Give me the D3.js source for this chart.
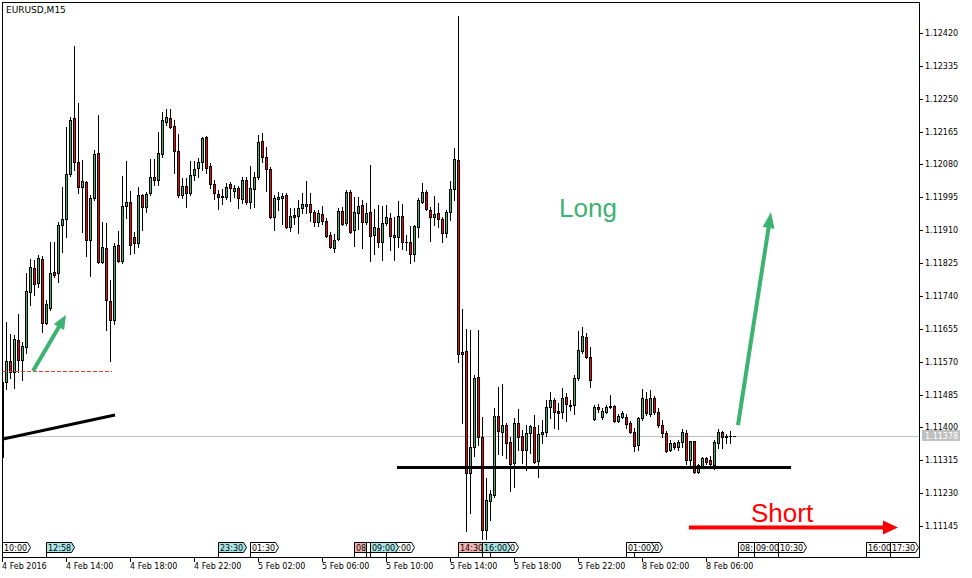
<!DOCTYPE html>
<html>
<head>
<meta charset="utf-8">
<script src="https://cdn.jsdelivr.net/npm/d3@7"></script>
<style>
  body { margin: 0; background: #fff; }
  svg { display: block; }
  .axis text, .tag text, .title { font-family: "DejaVu Sans", sans-serif; font-size: 8px; }
  .title { font-size: 9px; }
  .label { font-family: "Liberation Sans", Arial, sans-serif; font-size: 26px; }
</style>
</head>
<body>
<script>

// DATA
// --------------------------------------------------------------------------

var symbol = 'EURUSD,M15';

// One entry per M15 bar, oldest first.
var opens = [
  1.11324, 1.11517, 1.11572, 1.11543, 1.11626, 1.11574, 1.11608, 1.11750,
  1.11812, 1.11774, 1.11836, 1.11670, 1.11709, 1.11802, 1.11799, 1.11923,
  1.11939, 1.12055, 1.12200, 1.12086, 1.12022, 1.12035, 1.11885, 1.11993,
  1.12110, 1.11828, 1.11864, 1.11727, 1.11678, 1.11872, 1.11830, 1.11973,
  1.11983, 1.11892, 1.11877, 1.12001, 1.11970, 1.12006, 1.12048, 1.12040,
  1.12107, 1.12190, 1.12200, 1.12180, 1.12115, 1.12001, 1.12024, 1.12006,
  1.12053, 1.12071, 1.12086, 1.12151, 1.12076, 1.12030, 1.12004, 1.11998,
  1.11996, 1.12030, 1.12011, 1.12019, 1.11991, 1.12040, 1.11983, 1.12017,
  1.12048, 1.12141, 1.12099, 1.12068, 1.11944, 1.11991, 1.11993, 1.12001,
  1.11918, 1.11949, 1.11947, 1.11967, 1.11973, 1.11978, 1.11957, 1.11931,
  1.11952, 1.11934, 1.11898, 1.11864, 1.11887, 1.11960, 1.11929, 1.12009,
  1.11911, 1.11955, 1.11975, 1.11931, 1.11957, 1.11898, 1.11916, 1.11880,
  1.11929, 1.11942, 1.11892, 1.11892, 1.11947, 1.11880, 1.11880, 1.11849,
  1.11918, 1.11983, 1.12009, 1.11962, 1.11944, 1.11955, 1.11939, 1.11903,
  1.11957, 1.12017, 1.12092, 1.11590, 1.11598, 1.11282, 1.11349, 1.11530,
  1.11375, 1.11135, 1.11210, 1.11225, 1.11430, 1.11388, 1.11406, 1.11362,
  1.11308, 1.11411, 1.11378, 1.11342, 1.11386, 1.11401, 1.11313, 1.11383,
  1.11388, 1.11453, 1.11471, 1.11442, 1.11440, 1.11479, 1.11455, 1.11458,
  1.11528, 1.11598, 1.11634, 1.11582, 1.11422, 1.11453, 1.11427, 1.11440,
  1.11453, 1.11455, 1.11417, 1.11427, 1.11427, 1.11411, 1.11388, 1.11355,
  1.11424, 1.11474, 1.11435, 1.11476, 1.11440, 1.11406, 1.11386, 1.11342,
  1.11360, 1.11349, 1.11362, 1.11386, 1.11316, 1.11365, 1.11285, 1.11300,
  1.11321, 1.11316, 1.11303, 1.11360, 1.11388, 1.11375, 1.11378, 1.11378
];

var highs = [
  1.11528, 1.11673, 1.11642, 1.11639, 1.11693, 1.11621, 1.11799, 1.11836,
  1.11833, 1.11846, 1.11843, 1.11730, 1.11880, 1.11880, 1.11931, 1.12022,
  1.12177, 1.12203, 1.12386, 1.12239, 1.12092, 1.12037, 1.12001, 1.12117,
  1.12208, 1.11931, 1.11929, 1.11781, 1.11877, 1.11908, 1.12050, 1.12089,
  1.12011, 1.11905, 1.12022, 1.12004, 1.12009, 1.12094, 1.12094, 1.12164,
  1.12216, 1.12223, 1.12223, 1.12195, 1.12159, 1.12045, 1.12045, 1.12089,
  1.12089, 1.12097, 1.12151, 1.12154, 1.12084, 1.12040, 1.12014, 1.12017,
  1.12032, 1.12035, 1.12027, 1.12024, 1.12048, 1.12048, 1.12076, 1.12061,
  1.12156, 1.12161, 1.12125, 1.12073, 1.12001, 1.12009, 1.12006, 1.12006,
  1.11967, 1.11967, 1.11988, 1.12006, 1.12037, 1.12006, 1.11962, 1.11962,
  1.11973, 1.11942, 1.11905, 1.11900, 1.11967, 1.11970, 1.12014, 1.12014,
  1.11996, 1.11996, 1.11988, 1.11980, 1.12079, 1.11965, 1.11975, 1.11973,
  1.11975, 1.11955, 1.11944, 1.11986, 1.11978, 1.11898, 1.11921, 1.11923,
  1.11993, 1.12032, 1.12014, 1.11970, 1.11998, 1.11980, 1.11944, 1.11962,
  1.12037, 1.12123, 1.12464, 1.11706, 1.11655, 1.11652, 1.11536, 1.11652,
  1.11427, 1.11269, 1.11238, 1.11450, 1.11505, 1.11512, 1.11411, 1.11375,
  1.11424, 1.11448, 1.11393, 1.11406, 1.11406, 1.11432, 1.11406, 1.11419,
  1.11471, 1.11492, 1.11476, 1.11463, 1.11502, 1.11489, 1.11471, 1.11536,
  1.11649, 1.11660, 1.11644, 1.11608, 1.11458, 1.11461, 1.11450, 1.11458,
  1.11484, 1.11458, 1.11435, 1.11442, 1.11435, 1.11417, 1.11398, 1.11427,
  1.11499, 1.11492, 1.11497, 1.11481, 1.11450, 1.11419, 1.11391, 1.11368,
  1.11362, 1.11368, 1.11396, 1.11393, 1.11365, 1.11365, 1.11305, 1.11324,
  1.11324, 1.11326, 1.11368, 1.11396, 1.11391, 1.11383, 1.11391, 1.11378
];

var lows = [
  1.11316, 1.11499, 1.11528, 1.11502, 1.11543, 1.11523, 1.11592, 1.11717,
  1.11742, 1.11763, 1.11647, 1.11667, 1.11704, 1.11789, 1.11776, 1.11854,
  1.11892, 1.12050, 1.12066, 1.12006, 1.11905, 1.11843, 1.11792, 1.11988,
  1.11825, 1.11825, 1.11652, 1.11572, 1.11667, 1.11828, 1.11825, 1.11942,
  1.11849, 1.11851, 1.11867, 1.11911, 1.11957, 1.12001, 1.12027, 1.12027,
  1.12099, 1.12182, 1.12174, 1.12058, 1.11996, 1.11993, 1.11970, 1.12001,
  1.12040, 1.12048, 1.12066, 1.12058, 1.12019, 1.11991, 1.11965, 1.11978,
  1.11991, 1.11986, 1.11996, 1.11967, 1.11980, 1.11978, 1.11967, 1.11970,
  1.12042, 1.12086, 1.12011, 1.11942, 1.11911, 1.11962, 1.11926, 1.11916,
  1.11908, 1.11926, 1.11903, 1.11955, 1.11955, 1.11934, 1.11921, 1.11921,
  1.11926, 1.11892, 1.11864, 1.11854, 1.11885, 1.11923, 1.11923, 1.11903,
  1.11869, 1.11913, 1.11864, 1.11926, 1.11830, 1.11849, 1.11867, 1.11833,
  1.11923, 1.11859, 1.11833, 1.11867, 1.11861, 1.11859, 1.11825, 1.11830,
  1.11892, 1.11980, 1.11962, 1.11882, 1.11923, 1.11918, 1.11880, 1.11892,
  1.11936, 1.11988, 1.11569, 1.11411, 1.11132, 1.11179, 1.11326, 1.11355,
  1.11111, 1.11111, 1.11161, 1.11220, 1.11331, 1.11329, 1.11321, 1.11236,
  1.11246, 1.11342, 1.11308, 1.11290, 1.11334, 1.11308, 1.11272, 1.11360,
  1.11378, 1.11424, 1.11398, 1.11396, 1.11424, 1.11417, 1.11445, 1.11435,
  1.11523, 1.11592, 1.11580, 1.11505, 1.11419, 1.11440, 1.11422, 1.11437,
  1.11450, 1.11414, 1.11414, 1.11424, 1.11398, 1.11386, 1.11339, 1.11342,
  1.11419, 1.11432, 1.11430, 1.11435, 1.11401, 1.11375, 1.11336, 1.11339,
  1.11344, 1.11342, 1.11349, 1.11305, 1.11300, 1.11282, 1.11282, 1.11298,
  1.11305, 1.11300, 1.11293, 1.11347, 1.11347, 1.11360, 1.11360, 1.11378
];

var closes = [
  1.11517, 1.11572, 1.11543, 1.11629, 1.11574, 1.11611, 1.11753, 1.11815,
  1.11771, 1.11838, 1.11670, 1.11719, 1.11799, 1.11794, 1.11923, 1.11939,
  1.12055, 1.12195, 1.12086, 1.12022, 1.12037, 1.11885, 1.11993, 1.12107,
  1.11828, 1.11867, 1.11730, 1.11678, 1.11869, 1.11830, 1.11973, 1.11983,
  1.11872, 1.11877, 1.12001, 1.11970, 1.12004, 1.12048, 1.12040, 1.12110,
  1.12195, 1.12203, 1.12177, 1.12115, 1.12001, 1.12024, 1.12006, 1.12053,
  1.12068, 1.12086, 1.12148, 1.12071, 1.12030, 1.12006, 1.11996, 1.11996,
  1.12022, 1.12019, 1.12019, 1.11993, 1.12040, 1.11983, 1.12019, 1.12048,
  1.12138, 1.12099, 1.12068, 1.11944, 1.11993, 1.11996, 1.11998, 1.11918,
  1.11947, 1.11944, 1.11967, 1.11978, 1.11978, 1.11957, 1.11931, 1.11955,
  1.11934, 1.11895, 1.11867, 1.11885, 1.11960, 1.11926, 1.12009, 1.11905,
  1.11957, 1.11973, 1.11931, 1.11955, 1.11895, 1.11918, 1.11880, 1.11929,
  1.11944, 1.11895, 1.11898, 1.11947, 1.11880, 1.11880, 1.11849, 1.11921,
  1.11988, 1.12009, 1.11965, 1.11944, 1.11952, 1.11939, 1.11903, 1.11957,
  1.12017, 1.12094, 1.11590, 1.11595, 1.11282, 1.11349, 1.11528, 1.11375,
  1.11135, 1.11212, 1.11228, 1.11430, 1.11391, 1.11406, 1.11360, 1.11305,
  1.11411, 1.11375, 1.11342, 1.11386, 1.11404, 1.11311, 1.11383, 1.11388,
  1.11453, 1.11471, 1.11440, 1.11437, 1.11476, 1.11461, 1.11458, 1.11528,
  1.11600, 1.11636, 1.11582, 1.11523, 1.11453, 1.11448, 1.11442, 1.11453,
  1.11455, 1.11417, 1.11430, 1.11437, 1.11409, 1.11388, 1.11352, 1.11424,
  1.11476, 1.11437, 1.11476, 1.11440, 1.11406, 1.11386, 1.11339, 1.11360,
  1.11349, 1.11362, 1.11388, 1.11316, 1.11365, 1.11285, 1.11303, 1.11321,
  1.11311, 1.11305, 1.11362, 1.11388, 1.11375, 1.11378, 1.11378, 1.11378
];

var lastPrice = 1.11378;

// Time axis: bar index of each label and its text.
var timeTickBars = [0, 16, 32, 48, 64, 80, 96, 112, 128, 144, 160, 176];
var timeTickLabels = [
  '4 Feb 2016', '4 Feb 14:00', '4 Feb 18:00', '4 Feb 22:00',
  '5 Feb 02:00', '5 Feb 06:00', '5 Feb 10:00', '5 Feb 14:00',
  '5 Feb 18:00', '5 Feb 22:00', '8 Feb 02:00', '8 Feb 06:00'
];

// Price axis labels.
var priceTicks = [
  1.12420, 1.12335, 1.12250, 1.12165, 1.12080, 1.11995, 1.11910, 1.11825,
  1.11740, 1.11655, 1.11570, 1.11485, 1.11400, 1.11315, 1.11230, 1.11145
];

// News event markers along the time axis, in the order they are stacked.
var eventBars  = [0, 11, 54, 62, 88, 91, 96, 92, 114, 122, 120, 158, 156,
                  184, 188, 194, 216, 222];
var eventTimes = ['10:00', '12:58', '23:30', '01:30', '08:30', '08:45',
                  '10:00', '09:00', '14:30', '16:30', '16:00', '01:30',
                  '01:00', '08:00', '09:00', '10:30', '16:00', '17:30'];
var eventKinds = ['low', 'mid', 'mid', 'low', 'high', 'low', 'low', 'mid',
                  'high', 'low', 'mid', 'low', 'low', 'low', 'low', 'low',
                  'low', 'low'];

// Drawn objects, anchored in (bar, price).
var trendBars    = [0.25, 28.25];
var trendPrices  = [1.11370, 1.11432];
var levelBars    = [0.25, 27.5];
var levelPrice   = 1.11546;
var supportBars  = [98.75, 197.25];
var supportPrice = 1.11298;
var upSmallBars   = [7.75, 16];
var upSmallPrices = [1.11546, 1.11691];
var upBigBars     = [184, 192.25];
var upBigPrices   = [1.11406, 1.11957];
var downBars      = [171.75, 224];
var downPrice     = 1.11142;
var longAt  = [139.25, 1.11944];
var shortAt = [187.25, 1.11155];


// LAYOUT
// --------------------------------------------------------------------------

var W = 972, H = 578;
var frame = { left: 2, top: 2, right: 919, bottom: 557 };

var GREEN = '#3cb371';
var RED = '#ff0000';
var KIND_FILL = { low: '#ffffff', mid: '#a8e6e6', high: '#f4b4b4' };
var TAG_W = 25, TAG_TIP = 3;

var x = d3.scaleLinear().domain([0, 229]).range([2, 918]);
var y = d3.scaleLinear().domain([1.11145, 1.12420]).range([526, 33]);

var px = function(b) { return Math.round(x(b)); };
var py = function(p) { return Math.round(y(p)); };

var svg = d3.select('body').append('svg')
  .attr('width', W)
  .attr('height', H);

svg.append('rect')
  .attr('width', W).attr('height', H).attr('fill', '#fff');

svg.append('clipPath').attr('id', 'plot-clip')
  .append('rect')
  .attr('x', frame.left + 1).attr('y', frame.top + 1)
  .attr('width', frame.right - frame.left - 1)
  .attr('height', frame.bottom - frame.top - 1);

var plot = svg.append('g')
  .attr('clip-path', 'url(#plot-clip)')
  .attr('shape-rendering', 'crispEdges');


/**
 * Polygon for a straight arrow with a triangular head.
 */
function arrowPath(x1, y1, x2, y2, shaft, headLen, headHalf) {
  var dx = x2 - x1, dy = y2 - y1;
  var len = Math.sqrt(dx * dx + dy * dy);
  var ux = dx / len, uy = dy / len, nx = -uy, ny = ux;
  var bx = x2 - ux * headLen, by = y2 - uy * headLen;
  var s = shaft / 2;
  var pts = [
    [x1 + nx * s, y1 + ny * s],
    [bx + nx * s, by + ny * s],
    [bx + nx * headHalf, by + ny * headHalf],
    [x2, y2],
    [bx - nx * headHalf, by - ny * headHalf],
    [bx - nx * s, by - ny * s],
    [x1 - nx * s, y1 - ny * s]
  ];
  return 'M' + pts.map(function(p) { return p.join(','); }).join('L') + 'Z';
}


// PRICE LINE
// --------------------------------------------------------------------------

plot.append('rect')
  .attr('x', frame.left).attr('y', py(lastPrice))
  .attr('width', frame.right - frame.left).attr('height', 1)
  .attr('fill', '#c0c0c0');


// CANDLES
// --------------------------------------------------------------------------

var candles = d3.range(opens.length).map(function(i) {
  var top = py(Math.max(opens[i], closes[i]));
  var bot = py(Math.min(opens[i], closes[i]));
  return {
    cx: px(i), top: top, bot: bot,
    hi: py(highs[i]), lo: py(lows[i]),
    up: closes[i] >= opens[i]
  };
});

var candle = plot.selectAll('g.candle')
  .data(candles)
  .enter().append('g').attr('class', 'candle');

// Wick.
candle.append('rect')
  .attr('x', function(d) { return d.cx; })
  .attr('y', function(d) { return d.hi; })
  .attr('width', 1)
  .attr('height', function(d) { return d.lo - d.hi + 1; })
  .attr('fill', '#000');

// Body outline.
candle.append('rect')
  .attr('x', function(d) { return d.cx - 1; })
  .attr('y', function(d) { return d.top; })
  .attr('width', 3)
  .attr('height', function(d) { return d.bot - d.top + 1; })
  .attr('fill', '#000');

// Body fill.
candle.filter(function(d) { return d.bot - d.top >= 2; })
  .append('rect')
  .attr('x', function(d) { return d.cx; })
  .attr('y', function(d) { return d.top + 1; })
  .attr('width', 1)
  .attr('height', function(d) { return d.bot - d.top - 1; })
  .attr('fill', function(d) { return d.up ? GREEN : RED; });


// OBJECTS
// --------------------------------------------------------------------------

var objects = svg.append('g').attr('clip-path', 'url(#plot-clip)');

// Dashed level.
objects.append('line')
  .attr('x1', x(levelBars[0])).attr('x2', x(levelBars[1]))
  .attr('y1', py(levelPrice) + 0.5).attr('y2', py(levelPrice) + 0.5)
  .attr('stroke', '#e03c3c').attr('stroke-width', 1)
  .attr('stroke-dasharray', '4,2')
  .attr('shape-rendering', 'crispEdges');

// Trend line.
objects.append('line')
  .attr('x1', x(trendBars[0])).attr('y1', y(trendPrices[0]))
  .attr('x2', x(trendBars[1])).attr('y2', y(trendPrices[1]))
  .attr('stroke', '#000').attr('stroke-width', 3);

// Support line.
objects.append('rect')
  .attr('x', x(supportBars[0])).attr('y', py(supportPrice) - 1)
  .attr('width', x(supportBars[1]) - x(supportBars[0])).attr('height', 3)
  .attr('fill', '#000')
  .attr('shape-rendering', 'crispEdges');

// Arrows.
objects.append('path')
  .attr('d', arrowPath(x(upSmallBars[0]), y(upSmallPrices[0]),
                       x(upSmallBars[1]), y(upSmallPrices[1]), 4, 14, 6))
  .attr('fill', GREEN);

objects.append('path')
  .attr('d', arrowPath(x(upBigBars[0]), y(upBigPrices[0]),
                       x(upBigBars[1]), y(upBigPrices[1]), 4, 16, 6))
  .attr('fill', GREEN);

objects.append('path')
  .attr('d', arrowPath(x(downBars[0]), py(downPrice) + 0.5,
                       x(downBars[1]), py(downPrice) + 0.5, 4, 15, 7))
  .attr('fill', RED);

// Labels.
objects.append('text')
  .attr('class', 'label')
  .attr('x', x(longAt[0])).attr('y', y(longAt[1]))
  .attr('fill', GREEN)
  .text('Long');

objects.append('text')
  .attr('class', 'label')
  .attr('x', x(shortAt[0])).attr('y', y(shortAt[1]))
  .attr('fill', RED)
  .text('Short');


// EVENT TAGS
// --------------------------------------------------------------------------

var tags = svg.append('g').attr('class', 'tag');
var tagX = eventBars.map(function(b) { return px(b) + 0.5; });


/**
 * Keep the characters of tag k's label that the tags stacked above it
 * leave (almost) uncovered; the reference shows only those.
 *
 * @param {Object} label: d3 selection of the text.
 * @param {Number} k: Stacking index.
 */
function trimToVisible(label, k) {

  var node = label.node(), str = eventTimes[k], x0 = +label.attr('x');
  var slack = 2;
  var covers = tagX.slice(k + 1).map(function(xl) {
    return [xl - 0.5 + slack, xl + TAG_W + TAG_TIP + 0.5 - slack];
  });

  // Flag each glyph that is clear of the tags above.
  var starts = [], clear = [];
  for (var c = 0; c < str.length; c++) {
    var a = x0 + (c ? node.getSubStringLength(0, c) : 0);
    var e = a + node.getSubStringLength(c, 1);
    starts.push(a);
    clear.push(!covers.some(function(iv) { return e > iv[0] && a < iv[1]; }));
  }

  // Longest clear run.
  var best = [0, 0], from = 0;
  for (var i = 0; i <= str.length; i++) {
    if (i == str.length || !clear[i]) {
      if (i - from > best[1] - best[0]) best = [from, i];
      from = i + 1;
    }
  }

  if (best[1] == best[0]) { label.remove(); return; }
  label.attr('x', starts[best[0]]).text(str.slice(best[0], best[1]));

}


eventBars.forEach(function(b, k) {
  var x0 = tagX[k], t = 542.5, bt = 552.5;
  var g = tags.append('g');
  g.append('path')
    .attr('d', 'M' + x0 + ',' + t + 'H' + (x0 + TAG_W) +
      'L' + (x0 + TAG_W + TAG_TIP) + ',' + ((t + bt) / 2) +
      'L' + (x0 + TAG_W) + ',' + bt + 'H' + x0 + 'Z')
    .attr('fill', KIND_FILL[eventKinds[k]])
    .attr('stroke', '#000').attr('stroke-width', 1);
  g.append('line')
    .attr('x1', x0).attr('x2', x0).attr('y1', t).attr('y2', frame.bottom)
    .attr('stroke', '#000').attr('shape-rendering', 'crispEdges');
  var label = g.append('text')
    .attr('x', x0 + 1.5).attr('y', 550.5)
    .attr('fill', '#000')
    .text(eventTimes[k]);
  trimToVisible(label, k);
});


// FRAME & AXES
// --------------------------------------------------------------------------

var axis = svg.append('g').attr('class', 'axis')
  .attr('shape-rendering', 'crispEdges');

axis.append('path')
  .attr('d', 'M' + (frame.left + 0.5) + ',' + (frame.bottom + 0.5) +
    'V' + (frame.top + 0.5) + 'H' + (frame.right + 0.5) +
    'V' + (frame.bottom + 0.5) + 'Z')
  .attr('fill', 'none').attr('stroke', '#000');

// Time axis.
timeTickBars.forEach(function(b, k) {
  var tx = px(b) + 0.5;
  axis.append('line')
    .attr('x1', tx).attr('x2', tx)
    .attr('y1', frame.bottom).attr('y2', frame.bottom + 5)
    .attr('stroke', '#000');
  axis.append('text')
    .attr('x', tx - 0.5).attr('y', 568.5)
    .attr('fill', '#000')
    .text(timeTickLabels[k]);
});

// Price axis.
priceTicks.forEach(function(p) {
  var ty = py(p) + 0.5;
  axis.append('line')
    .attr('x1', frame.right).attr('x2', frame.right + 4)
    .attr('y1', ty).attr('y2', ty)
    .attr('stroke', '#000');
  axis.append('text')
    .attr('x', 925).attr('y', ty + 2.5)
    .attr('fill', '#000')
    .text(p.toFixed(5));
});

// Last price marker.
axis.append('rect')
  .attr('x', 922).attr('y', py(lastPrice) - 6)
  .attr('width', 38).attr('height', 11)
  .attr('fill', '#c0c0c0');

axis.append('text')
  .attr('x', 925).attr('y', py(lastPrice) + 3)
  .attr('fill', '#fff')
  .text(lastPrice.toFixed(5));

// Title.
svg.append('text')
  .attr('class', 'title')
  .attr('x', 6).attr('y', 13)
  .attr('fill', '#000')
  .text(symbol);

</script>
</body>
</html>
